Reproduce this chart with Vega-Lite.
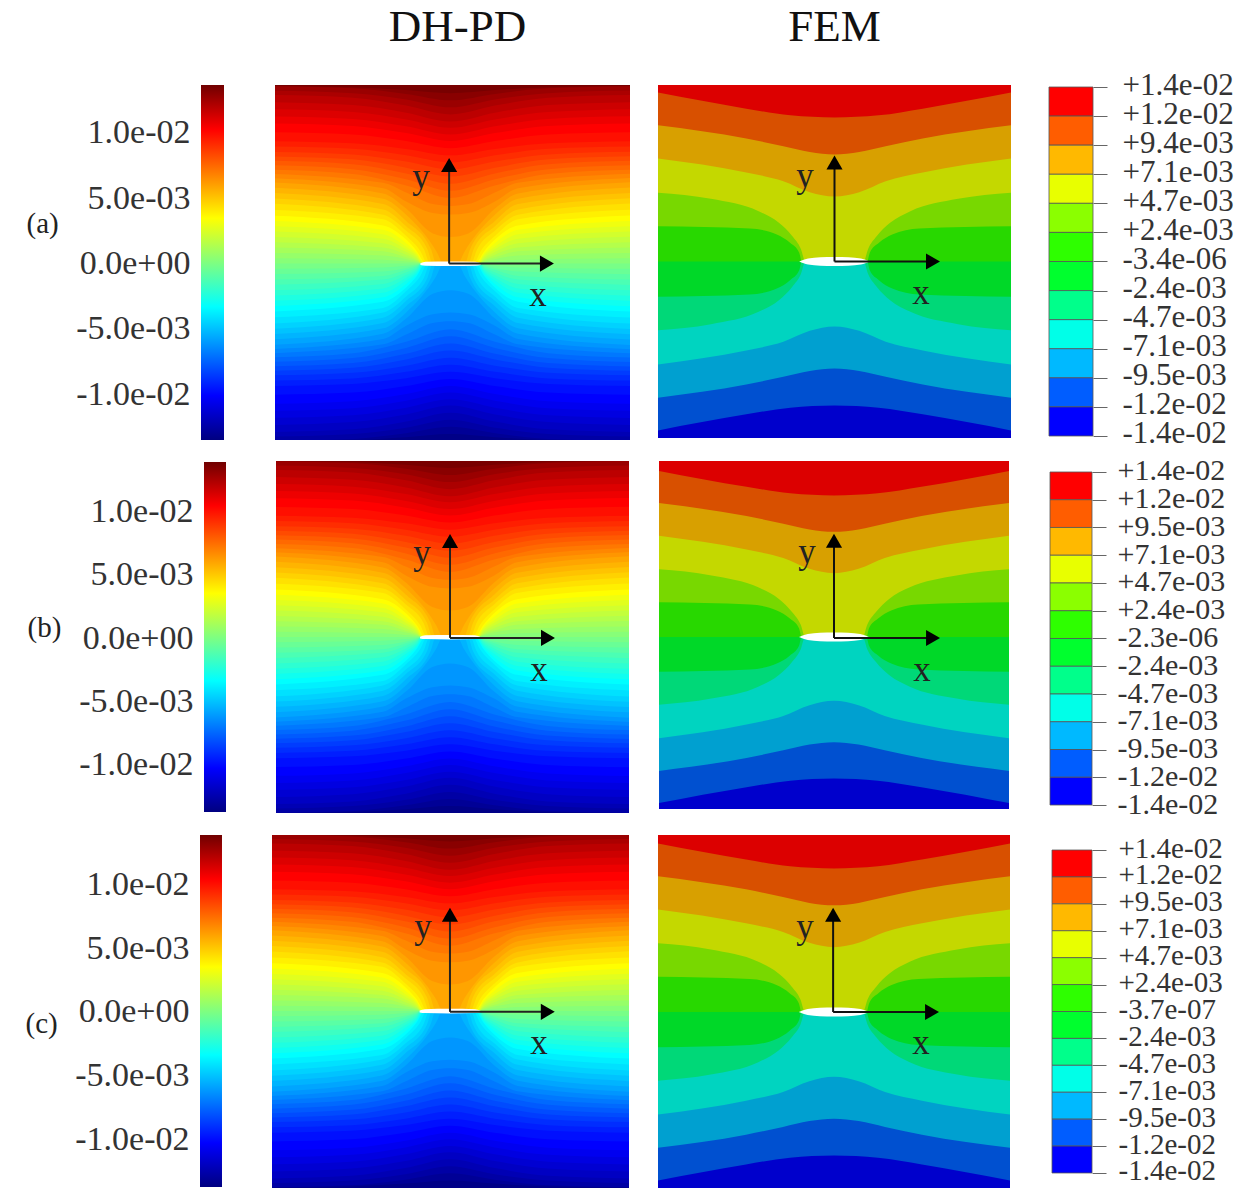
{"$schema":"https://vega.github.io/schema/vega-lite/v6.json","background":"white","padding":{"left":25,"top":5,"right":0,"bottom":0},"config":{"view":{"stroke":null},"axis":{"labelFont":"Liberation Serif","titleFont":"Liberation Serif","labelColor":"#333","titleColor":"#222","domain":false,"grid":false,"labelFontSize":34,"titleFontSize":29,"titleFontWeight":"normal","labelOverlap":false,"labelFlush":false,"labelBaseline":"middle","tickColor":"#666"}},
"datasets":{
"bands":[{"i":0,"j":1,"b":1,"p":0,"q":1},{"i":1,"j":2,"b":2,"p":0,"q":1},{"i":2,"j":3,"b":3,"p":0,"q":1},{"i":3,"j":4,"b":4,"p":0,"q":1},{"i":4,"j":5,"b":5,"p":0,"q":1},{"i":5,"j":6,"b":6,"p":0,"q":1},{"i":6,"j":7,"b":7,"p":0,"q":1},{"i":7,"j":8,"b":8,"p":0,"q":1},{"i":8,"j":9,"b":9,"p":0,"q":1},{"i":9,"j":10,"b":10,"p":0,"q":1},{"i":10,"j":11,"b":11,"p":0,"q":1},{"i":11,"j":12,"b":12,"p":0,"q":1}],
"crackF":[{"x":-0.2,"t":0,"b":0},{"x":-0.15,"t":0.017,"b":-0.017},{"x":-0.08,"t":0.024,"b":-0.024},{"x":0,"t":0.026,"b":-0.026},{"x":0.08,"t":0.024,"b":-0.024},{"x":0.15,"t":0.017,"b":-0.017},{"x":0.2,"t":0,"b":0}],
"crackP":[{"x":-0.17,"t":0.002,"b":-0.008},{"x":-0.14,"t":0.01,"b":-0.012},{"x":0,"t":0.012,"b":-0.014},{"x":0.14,"t":0.01,"b":-0.012},{"x":0.17,"t":0.002,"b":-0.008}],
"fem":[{"b":1,"x":-1,"y":1.05},{"b":1,"x":1,"y":1.05},
{"b":2,"x":-1,"y":0.957},{"b":2,"x":-0.5,"y":0.866},{"b":2,"x":-0.25,"y":0.828},{"b":2,"x":0,"y":0.816},{"b":2,"x":0.25,"y":0.828},{"b":2,"x":0.5,"y":0.866},{"b":2,"x":1,"y":0.957},
{"b":3,"x":-1,"y":0.772},{"b":3,"x":-0.5,"y":0.697},{"b":3,"x":-0.29,"y":0.653},{"b":3,"x":-0.14,"y":0.62},{"b":3,"x":0,"y":0.606},{"b":3,"x":0.14,"y":0.62},{"b":3,"x":0.29,"y":0.653},{"b":3,"x":0.5,"y":0.697},{"b":3,"x":1,"y":0.772},
{"b":4,"x":-1,"y":0.583},{"b":4,"x":-0.5,"y":0.504},{"b":4,"x":-0.29,"y":0.455},{"b":4,"x":-0.14,"y":0.393},{"b":4,"x":0,"y":0.368},{"b":4,"x":0.14,"y":0.393},{"b":4,"x":0.29,"y":0.455},{"b":4,"x":0.5,"y":0.504},{"b":4,"x":1,"y":0.583},
{"b":5,"x":-1,"y":0.39},{"b":5,"x":-0.7,"y":0.355},{"b":5,"x":-0.43,"y":0.285},{"b":5,"x":-0.315,"y":0.219},{"b":5,"x":-0.24,"y":0.144},{"b":5,"x":-0.19,"y":0.07},{"b":5,"x":-0.165,"y":0},{"b":5,"x":0.165,"y":0},{"b":5,"x":0.19,"y":0.07},{"b":5,"x":0.24,"y":0.144},{"b":5,"x":0.315,"y":0.219},{"b":5,"x":0.43,"y":0.285},{"b":5,"x":0.7,"y":0.355},{"b":5,"x":1,"y":0.39},
{"b":6,"x":-1,"y":0.2},{"b":6,"x":-0.48,"y":0.187},{"b":6,"x":-0.327,"y":0.153},{"b":6,"x":-0.252,"y":0.106},{"b":6,"x":-0.2,"y":0.05},{"b":6,"x":-0.185,"y":0},{"b":6,"x":0.185,"y":0},{"b":6,"x":0.2,"y":0.05},{"b":6,"x":0.252,"y":0.106},{"b":6,"x":0.327,"y":0.153},{"b":6,"x":0.48,"y":0.187},{"b":6,"x":1,"y":0.2},
{"b":7,"x":-1,"y":0},{"b":7,"x":1,"y":0},
{"b":8,"x":-1,"y":-0.2},{"b":8,"x":-0.48,"y":-0.187},{"b":8,"x":-0.327,"y":-0.153},{"b":8,"x":-0.252,"y":-0.106},{"b":8,"x":-0.2,"y":-0.05},{"b":8,"x":-0.185,"y":0},{"b":8,"x":0.185,"y":0},{"b":8,"x":0.2,"y":-0.05},{"b":8,"x":0.252,"y":-0.106},{"b":8,"x":0.327,"y":-0.153},{"b":8,"x":0.48,"y":-0.187},{"b":8,"x":1,"y":-0.2},
{"b":9,"x":-1,"y":-0.39},{"b":9,"x":-0.7,"y":-0.355},{"b":9,"x":-0.43,"y":-0.285},{"b":9,"x":-0.315,"y":-0.219},{"b":9,"x":-0.24,"y":-0.144},{"b":9,"x":-0.19,"y":-0.07},{"b":9,"x":-0.165,"y":0},{"b":9,"x":0.165,"y":0},{"b":9,"x":0.19,"y":-0.07},{"b":9,"x":0.24,"y":-0.144},{"b":9,"x":0.315,"y":-0.219},{"b":9,"x":0.43,"y":-0.285},{"b":9,"x":0.7,"y":-0.355},{"b":9,"x":1,"y":-0.39},
{"b":10,"x":-1,"y":-0.583},{"b":10,"x":-0.5,"y":-0.504},{"b":10,"x":-0.29,"y":-0.455},{"b":10,"x":-0.14,"y":-0.393},{"b":10,"x":0,"y":-0.368},{"b":10,"x":0.14,"y":-0.393},{"b":10,"x":0.29,"y":-0.455},{"b":10,"x":0.5,"y":-0.504},{"b":10,"x":1,"y":-0.583},
{"b":11,"x":-1,"y":-0.772},{"b":11,"x":-0.5,"y":-0.697},{"b":11,"x":-0.29,"y":-0.653},{"b":11,"x":-0.14,"y":-0.62},{"b":11,"x":0,"y":-0.606},{"b":11,"x":0.14,"y":-0.62},{"b":11,"x":0.29,"y":-0.653},{"b":11,"x":0.5,"y":-0.697},{"b":11,"x":1,"y":-0.772},
{"b":12,"x":-1,"y":-0.957},{"b":12,"x":-0.5,"y":-0.866},{"b":12,"x":-0.25,"y":-0.828},{"b":12,"x":0,"y":-0.816},{"b":12,"x":0.25,"y":-0.828},{"b":12,"x":0.5,"y":-0.866},{"b":12,"x":1,"y":-0.957}],
"pd":[{"v":0.0134,"x":-1.05,"y":1.05},{"v":0.0134,"x":1.05,"y":1.05},
{"v":0.013,"x":-1.05,"y":1},{"v":0.013,"x":-0.55,"y":0.994},{"v":0.013,"x":-0.25,"y":0.978},{"v":0.013,"x":0,"y":0.96},{"v":0.013,"x":0.25,"y":0.978},{"v":0.013,"x":0.55,"y":0.994},{"v":0.013,"x":1.05,"y":1},
{"v":0.0126,"x":-1.05,"y":1},{"v":0.0126,"x":-0.55,"y":0.988},{"v":0.0126,"x":-0.25,"y":0.956},{"v":0.0126,"x":0,"y":0.92},{"v":0.0126,"x":0.25,"y":0.956},{"v":0.0126,"x":0.55,"y":0.988},{"v":0.0126,"x":1.05,"y":1},
{"v":0.0122,"x":-1.05,"y":0.975},{"v":0.0122,"x":-0.55,"y":0.96},{"v":0.0122,"x":-0.25,"y":0.925},{"v":0.0122,"x":0,"y":0.88},{"v":0.0122,"x":0.25,"y":0.925},{"v":0.0122,"x":0.55,"y":0.96},{"v":0.0122,"x":1.05,"y":0.975},
{"v":0.0118,"x":-1.05,"y":0.95},{"v":0.0118,"x":-0.55,"y":0.934},{"v":0.0118,"x":-0.25,"y":0.89},{"v":0.0118,"x":0,"y":0.84},{"v":0.0118,"x":0.25,"y":0.89},{"v":0.0118,"x":0.55,"y":0.934},{"v":0.0118,"x":1.05,"y":0.95},
{"v":0.0114,"x":-1.05,"y":0.91},{"v":0.0114,"x":-0.55,"y":0.893},{"v":0.0114,"x":-0.25,"y":0.85},{"v":0.0114,"x":0,"y":0.8},{"v":0.0114,"x":0.25,"y":0.85},{"v":0.0114,"x":0.55,"y":0.893},{"v":0.0114,"x":1.05,"y":0.91},
{"v":0.011,"x":-1.05,"y":0.87},{"v":0.011,"x":-0.55,"y":0.854},{"v":0.011,"x":-0.25,"y":0.812},{"v":0.011,"x":0,"y":0.765},{"v":0.011,"x":0.25,"y":0.812},{"v":0.011,"x":0.55,"y":0.854},{"v":0.011,"x":1.05,"y":0.87},
{"v":0.0106,"x":-1.05,"y":0.83},{"v":0.0106,"x":-0.55,"y":0.815},{"v":0.0106,"x":-0.25,"y":0.773},{"v":0.0106,"x":0,"y":0.727},{"v":0.0106,"x":0.25,"y":0.773},{"v":0.0106,"x":0.55,"y":0.815},{"v":0.0106,"x":1.05,"y":0.83},
{"v":0.0102,"x":-1.05,"y":0.79},{"v":0.0102,"x":-0.55,"y":0.775},{"v":0.0102,"x":-0.25,"y":0.735},{"v":0.0102,"x":0,"y":0.69},{"v":0.0102,"x":0.25,"y":0.735},{"v":0.0102,"x":0.55,"y":0.775},{"v":0.0102,"x":1.05,"y":0.79},
{"v":0.0098,"x":-1.05,"y":0.74},{"v":0.0098,"x":-0.55,"y":0.727},{"v":0.0098,"x":-0.25,"y":0.69},{"v":0.0098,"x":0,"y":0.65},{"v":0.0098,"x":0.25,"y":0.69},{"v":0.0098,"x":0.55,"y":0.727},{"v":0.0098,"x":1.05,"y":0.74},
{"v":0.0094,"x":-1.05,"y":0.69},{"v":0.0094,"x":-0.55,"y":0.678},{"v":0.0094,"x":-0.25,"y":0.646},{"v":0.0094,"x":0,"y":0.61},{"v":0.0094,"x":0.25,"y":0.646},{"v":0.0094,"x":0.55,"y":0.678},{"v":0.0094,"x":1.05,"y":0.69},
{"v":0.009,"x":-1.05,"y":0.66},{"v":0.009,"x":-0.55,"y":0.647},{"v":0.009,"x":-0.25,"y":0.61},{"v":0.009,"x":0,"y":0.57},{"v":0.009,"x":0.25,"y":0.61},{"v":0.009,"x":0.55,"y":0.647},{"v":0.009,"x":1.05,"y":0.66},
{"v":0.0086,"x":-1.05,"y":0.63},{"v":0.0086,"x":-0.55,"y":0.615},{"v":0.0086,"x":-0.25,"y":0.575},{"v":0.0086,"x":0,"y":0.53},{"v":0.0086,"x":0.25,"y":0.575},{"v":0.0086,"x":0.55,"y":0.615},{"v":0.0086,"x":1.05,"y":0.63},
{"v":0.0082,"x":-1.05,"y":0.605},{"v":0.0082,"x":-0.55,"y":0.587},{"v":0.0082,"x":-0.25,"y":0.54},{"v":0.0082,"x":0,"y":0.49},{"v":0.0082,"x":0.25,"y":0.54},{"v":0.0082,"x":0.55,"y":0.587},{"v":0.0082,"x":1.05,"y":0.605},
{"v":0.0078,"x":-1.05,"y":0.58},{"v":0.0078,"x":-0.55,"y":0.56},{"v":0.0078,"x":-0.25,"y":0.508},{"v":0.0078,"x":0,"y":0.45},{"v":0.0078,"x":0.25,"y":0.508},{"v":0.0078,"x":0.55,"y":0.56},{"v":0.0078,"x":1.05,"y":0.58},
{"v":0.0074,"x":-1.05,"y":0.555},{"v":0.0074,"x":-0.55,"y":0.532},{"v":0.0074,"x":-0.25,"y":0.475},{"v":0.0074,"x":0,"y":0.41},{"v":0.0074,"x":0.25,"y":0.475},{"v":0.0074,"x":0.55,"y":0.532},{"v":0.0074,"x":1.05,"y":0.555},
{"v":0.007,"x":-1.05,"y":0.53},{"v":0.007,"x":-0.55,"y":0.505},{"v":0.007,"x":-0.25,"y":0.44},{"v":0.007,"x":0,"y":0.37},{"v":0.007,"x":0.25,"y":0.44},{"v":0.007,"x":0.55,"y":0.505},{"v":0.007,"x":1.05,"y":0.53},
{"v":0.0066,"x":-1.05,"y":0.507},{"v":0.0066,"x":-0.38,"y":0.455},{"v":0.0066,"x":-0.25,"y":0.4},{"v":0.0066,"x":-0.1,"y":0.335},{"v":0.0066,"x":0,"y":0.325},{"v":0.0066,"x":0.1,"y":0.335},{"v":0.0066,"x":0.25,"y":0.4},{"v":0.0066,"x":0.38,"y":0.455},{"v":0.0066,"x":1.05,"y":0.507},
{"v":0.0062,"x":-1.05,"y":0.484},{"v":0.0062,"x":-0.38,"y":0.425},{"v":0.0062,"x":-0.25,"y":0.35},{"v":0.0062,"x":-0.1,"y":0.285},{"v":0.0062,"x":0,"y":0.276},{"v":0.0062,"x":0.1,"y":0.285},{"v":0.0062,"x":0.25,"y":0.35},{"v":0.0062,"x":0.38,"y":0.425},{"v":0.0062,"x":1.05,"y":0.484},
{"v":0.0058,"x":-1.05,"y":0.46},{"v":0.0058,"x":-0.38,"y":0.395},{"v":0.0058,"x":-0.25,"y":0.31},{"v":0.0058,"x":-0.1,"y":0.17},{"v":0.0058,"x":0,"y":0.15},{"v":0.0058,"x":0.1,"y":0.17},{"v":0.0058,"x":0.25,"y":0.31},{"v":0.0058,"x":0.38,"y":0.395},{"v":0.0058,"x":1.05,"y":0.46},
{"v":0.0054,"x":-1.05,"y":0.43},{"v":0.0054,"x":-0.38,"y":0.365},{"v":0.0054,"x":-0.25,"y":0.275},{"v":0.0054,"x":-0.08,"y":0.07},{"v":0.0054,"x":-0.04,"y":0},{"v":0.0054,"x":0.04,"y":0},{"v":0.0054,"x":0.08,"y":0.07},{"v":0.0054,"x":0.25,"y":0.275},{"v":0.0054,"x":0.38,"y":0.365},{"v":0.0054,"x":1.05,"y":0.43},
{"v":0.005,"x":-1.05,"y":0.4},{"v":0.005,"x":-0.38,"y":0.335},{"v":0.005,"x":-0.25,"y":0.24},{"v":0.005,"x":-0.11,"y":0.08},{"v":0.005,"x":-0.08,"y":0},{"v":0.005,"x":0.08,"y":0},{"v":0.005,"x":0.11,"y":0.08},{"v":0.005,"x":0.25,"y":0.24},{"v":0.005,"x":0.38,"y":0.335},{"v":0.005,"x":1.05,"y":0.4},
{"v":0.0046,"x":-1.05,"y":0.37},{"v":0.0046,"x":-0.38,"y":0.305},{"v":0.0046,"x":-0.25,"y":0.21},{"v":0.0046,"x":-0.13,"y":0.08},{"v":0.0046,"x":-0.1,"y":0},{"v":0.0046,"x":0.1,"y":0},{"v":0.0046,"x":0.13,"y":0.08},{"v":0.0046,"x":0.25,"y":0.21},{"v":0.0046,"x":0.38,"y":0.305},{"v":0.0046,"x":1.05,"y":0.37},
{"v":0.0042,"x":-1.05,"y":0.34},{"v":0.0042,"x":-0.38,"y":0.275},{"v":0.0042,"x":-0.25,"y":0.185},{"v":0.0042,"x":-0.15,"y":0.08},{"v":0.0042,"x":-0.115,"y":0},{"v":0.0042,"x":0.115,"y":0},{"v":0.0042,"x":0.15,"y":0.08},{"v":0.0042,"x":0.25,"y":0.185},{"v":0.0042,"x":0.38,"y":0.275},{"v":0.0042,"x":1.05,"y":0.34},
{"v":0.0038,"x":-1.05,"y":0.305},{"v":0.0038,"x":-0.38,"y":0.25},{"v":0.0038,"x":-0.25,"y":0.155},{"v":0.0038,"x":-0.17,"y":0.07},{"v":0.0038,"x":-0.13,"y":0},{"v":0.0038,"x":0.13,"y":0},{"v":0.0038,"x":0.17,"y":0.07},{"v":0.0038,"x":0.25,"y":0.155},{"v":0.0038,"x":0.38,"y":0.25},{"v":0.0038,"x":1.05,"y":0.305},
{"v":0.0034,"x":-1.05,"y":0.272},{"v":0.0034,"x":-0.38,"y":0.215},{"v":0.0034,"x":-0.25,"y":0.135},{"v":0.0034,"x":-0.19,"y":0.07},{"v":0.0034,"x":-0.14,"y":0},{"v":0.0034,"x":0.14,"y":0},{"v":0.0034,"x":0.19,"y":0.07},{"v":0.0034,"x":0.25,"y":0.135},{"v":0.0034,"x":0.38,"y":0.215},{"v":0.0034,"x":1.05,"y":0.272},
{"v":0.003,"x":-1.05,"y":0.242},{"v":0.003,"x":-0.38,"y":0.19},{"v":0.003,"x":-0.25,"y":0.115},{"v":0.003,"x":-0.19,"y":0.06},{"v":0.003,"x":-0.145,"y":0},{"v":0.003,"x":0.145,"y":0},{"v":0.003,"x":0.19,"y":0.06},{"v":0.003,"x":0.25,"y":0.115},{"v":0.003,"x":0.38,"y":0.19},{"v":0.003,"x":1.05,"y":0.242},
{"v":0.0026,"x":-1.05,"y":0.212},{"v":0.0026,"x":-0.38,"y":0.165},{"v":0.0026,"x":-0.25,"y":0.095},{"v":0.0026,"x":-0.19,"y":0.05},{"v":0.0026,"x":-0.15,"y":0},{"v":0.0026,"x":0.15,"y":0},{"v":0.0026,"x":0.19,"y":0.05},{"v":0.0026,"x":0.25,"y":0.095},{"v":0.0026,"x":0.38,"y":0.165},{"v":0.0026,"x":1.05,"y":0.212},
{"v":0.0022,"x":-1.05,"y":0.182},{"v":0.0022,"x":-0.38,"y":0.14},{"v":0.0022,"x":-0.25,"y":0.08},{"v":0.0022,"x":-0.19,"y":0.04},{"v":0.0022,"x":-0.155,"y":0},{"v":0.0022,"x":0.155,"y":0},{"v":0.0022,"x":0.19,"y":0.04},{"v":0.0022,"x":0.25,"y":0.08},{"v":0.0022,"x":0.38,"y":0.14},{"v":0.0022,"x":1.05,"y":0.182},
{"v":0.0018,"x":-1.05,"y":0.152},{"v":0.0018,"x":-0.38,"y":0.115},{"v":0.0018,"x":-0.25,"y":0.065},{"v":0.0018,"x":-0.19,"y":0.03},{"v":0.0018,"x":-0.16,"y":0},{"v":0.0018,"x":0.16,"y":0},{"v":0.0018,"x":0.19,"y":0.03},{"v":0.0018,"x":0.25,"y":0.065},{"v":0.0018,"x":0.38,"y":0.115},{"v":0.0018,"x":1.05,"y":0.152},
{"v":0.0014,"x":-1.05,"y":0.121},{"v":0.0014,"x":-0.38,"y":0.09},{"v":0.0014,"x":-0.25,"y":0.05},{"v":0.0014,"x":-0.19,"y":0.022},{"v":0.0014,"x":-0.16,"y":0},{"v":0.0014,"x":0.16,"y":0},{"v":0.0014,"x":0.19,"y":0.022},{"v":0.0014,"x":0.25,"y":0.05},{"v":0.0014,"x":0.38,"y":0.09},{"v":0.0014,"x":1.05,"y":0.121},
{"v":0.001,"x":-1.05,"y":0.091},{"v":0.001,"x":-0.38,"y":0.07},{"v":0.001,"x":-0.25,"y":0.035},{"v":0.001,"x":-0.19,"y":0.015},{"v":0.001,"x":-0.16,"y":0},{"v":0.001,"x":0.16,"y":0},{"v":0.001,"x":0.19,"y":0.015},{"v":0.001,"x":0.25,"y":0.035},{"v":0.001,"x":0.38,"y":0.07},{"v":0.001,"x":1.05,"y":0.091},
{"v":0.0006,"x":-1.05,"y":0.06},{"v":0.0006,"x":-0.38,"y":0.045},{"v":0.0006,"x":-0.25,"y":0.025},{"v":0.0006,"x":-0.19,"y":0.01},{"v":0.0006,"x":-0.16,"y":0},{"v":0.0006,"x":0.16,"y":0},{"v":0.0006,"x":0.19,"y":0.01},{"v":0.0006,"x":0.25,"y":0.025},{"v":0.0006,"x":0.38,"y":0.045},{"v":0.0006,"x":1.05,"y":0.06},
{"v":0.0002,"x":-1.05,"y":0.03},{"v":0.0002,"x":-0.38,"y":0.022},{"v":0.0002,"x":-0.25,"y":0.012},{"v":0.0002,"x":-0.19,"y":0.005},{"v":0.0002,"x":-0.16,"y":0},{"v":0.0002,"x":0.16,"y":0},{"v":0.0002,"x":0.19,"y":0.005},{"v":0.0002,"x":0.25,"y":0.012},{"v":0.0002,"x":0.38,"y":0.022},{"v":0.0002,"x":1.05,"y":0.03},
{"v":-0.0002,"x":-1.05,"y":0},{"v":-0.0002,"x":1.05,"y":0},
{"v":-0.0006,"x":-1.05,"y":-0.03},{"v":-0.0006,"x":-0.38,"y":-0.022},{"v":-0.0006,"x":-0.25,"y":-0.012},{"v":-0.0006,"x":-0.19,"y":-0.005},{"v":-0.0006,"x":-0.16,"y":0},{"v":-0.0006,"x":0.16,"y":0},{"v":-0.0006,"x":0.19,"y":-0.005},{"v":-0.0006,"x":0.25,"y":-0.012},{"v":-0.0006,"x":0.38,"y":-0.022},{"v":-0.0006,"x":1.05,"y":-0.03},
{"v":-0.001,"x":-1.05,"y":-0.06},{"v":-0.001,"x":-0.38,"y":-0.045},{"v":-0.001,"x":-0.25,"y":-0.025},{"v":-0.001,"x":-0.19,"y":-0.01},{"v":-0.001,"x":-0.16,"y":0},{"v":-0.001,"x":0.16,"y":0},{"v":-0.001,"x":0.19,"y":-0.01},{"v":-0.001,"x":0.25,"y":-0.025},{"v":-0.001,"x":0.38,"y":-0.045},{"v":-0.001,"x":1.05,"y":-0.06},
{"v":-0.0014,"x":-1.05,"y":-0.091},{"v":-0.0014,"x":-0.38,"y":-0.07},{"v":-0.0014,"x":-0.25,"y":-0.035},{"v":-0.0014,"x":-0.19,"y":-0.015},{"v":-0.0014,"x":-0.16,"y":0},{"v":-0.0014,"x":0.16,"y":0},{"v":-0.0014,"x":0.19,"y":-0.015},{"v":-0.0014,"x":0.25,"y":-0.035},{"v":-0.0014,"x":0.38,"y":-0.07},{"v":-0.0014,"x":1.05,"y":-0.091},
{"v":-0.0018,"x":-1.05,"y":-0.121},{"v":-0.0018,"x":-0.38,"y":-0.09},{"v":-0.0018,"x":-0.25,"y":-0.05},{"v":-0.0018,"x":-0.19,"y":-0.022},{"v":-0.0018,"x":-0.16,"y":0},{"v":-0.0018,"x":0.16,"y":0},{"v":-0.0018,"x":0.19,"y":-0.022},{"v":-0.0018,"x":0.25,"y":-0.05},{"v":-0.0018,"x":0.38,"y":-0.09},{"v":-0.0018,"x":1.05,"y":-0.121},
{"v":-0.0022,"x":-1.05,"y":-0.152},{"v":-0.0022,"x":-0.38,"y":-0.115},{"v":-0.0022,"x":-0.25,"y":-0.065},{"v":-0.0022,"x":-0.19,"y":-0.03},{"v":-0.0022,"x":-0.16,"y":0},{"v":-0.0022,"x":0.16,"y":0},{"v":-0.0022,"x":0.19,"y":-0.03},{"v":-0.0022,"x":0.25,"y":-0.065},{"v":-0.0022,"x":0.38,"y":-0.115},{"v":-0.0022,"x":1.05,"y":-0.152},
{"v":-0.0026,"x":-1.05,"y":-0.182},{"v":-0.0026,"x":-0.38,"y":-0.14},{"v":-0.0026,"x":-0.25,"y":-0.08},{"v":-0.0026,"x":-0.19,"y":-0.04},{"v":-0.0026,"x":-0.155,"y":0},{"v":-0.0026,"x":0.155,"y":0},{"v":-0.0026,"x":0.19,"y":-0.04},{"v":-0.0026,"x":0.25,"y":-0.08},{"v":-0.0026,"x":0.38,"y":-0.14},{"v":-0.0026,"x":1.05,"y":-0.182},
{"v":-0.003,"x":-1.05,"y":-0.212},{"v":-0.003,"x":-0.38,"y":-0.165},{"v":-0.003,"x":-0.25,"y":-0.095},{"v":-0.003,"x":-0.19,"y":-0.05},{"v":-0.003,"x":-0.15,"y":0},{"v":-0.003,"x":0.15,"y":0},{"v":-0.003,"x":0.19,"y":-0.05},{"v":-0.003,"x":0.25,"y":-0.095},{"v":-0.003,"x":0.38,"y":-0.165},{"v":-0.003,"x":1.05,"y":-0.212},
{"v":-0.0034,"x":-1.05,"y":-0.242},{"v":-0.0034,"x":-0.38,"y":-0.19},{"v":-0.0034,"x":-0.25,"y":-0.115},{"v":-0.0034,"x":-0.19,"y":-0.06},{"v":-0.0034,"x":-0.145,"y":0},{"v":-0.0034,"x":0.145,"y":0},{"v":-0.0034,"x":0.19,"y":-0.06},{"v":-0.0034,"x":0.25,"y":-0.115},{"v":-0.0034,"x":0.38,"y":-0.19},{"v":-0.0034,"x":1.05,"y":-0.242},
{"v":-0.0038,"x":-1.05,"y":-0.272},{"v":-0.0038,"x":-0.38,"y":-0.215},{"v":-0.0038,"x":-0.25,"y":-0.135},{"v":-0.0038,"x":-0.19,"y":-0.07},{"v":-0.0038,"x":-0.14,"y":0},{"v":-0.0038,"x":0.14,"y":0},{"v":-0.0038,"x":0.19,"y":-0.07},{"v":-0.0038,"x":0.25,"y":-0.135},{"v":-0.0038,"x":0.38,"y":-0.215},{"v":-0.0038,"x":1.05,"y":-0.272},
{"v":-0.0042,"x":-1.05,"y":-0.305},{"v":-0.0042,"x":-0.38,"y":-0.25},{"v":-0.0042,"x":-0.25,"y":-0.155},{"v":-0.0042,"x":-0.17,"y":-0.07},{"v":-0.0042,"x":-0.13,"y":0},{"v":-0.0042,"x":0.13,"y":0},{"v":-0.0042,"x":0.17,"y":-0.07},{"v":-0.0042,"x":0.25,"y":-0.155},{"v":-0.0042,"x":0.38,"y":-0.25},{"v":-0.0042,"x":1.05,"y":-0.305},
{"v":-0.0046,"x":-1.05,"y":-0.34},{"v":-0.0046,"x":-0.38,"y":-0.275},{"v":-0.0046,"x":-0.25,"y":-0.185},{"v":-0.0046,"x":-0.15,"y":-0.08},{"v":-0.0046,"x":-0.115,"y":0},{"v":-0.0046,"x":0.115,"y":0},{"v":-0.0046,"x":0.15,"y":-0.08},{"v":-0.0046,"x":0.25,"y":-0.185},{"v":-0.0046,"x":0.38,"y":-0.275},{"v":-0.0046,"x":1.05,"y":-0.34},
{"v":-0.005,"x":-1.05,"y":-0.37},{"v":-0.005,"x":-0.38,"y":-0.305},{"v":-0.005,"x":-0.25,"y":-0.21},{"v":-0.005,"x":-0.13,"y":-0.08},{"v":-0.005,"x":-0.1,"y":0},{"v":-0.005,"x":0.1,"y":0},{"v":-0.005,"x":0.13,"y":-0.08},{"v":-0.005,"x":0.25,"y":-0.21},{"v":-0.005,"x":0.38,"y":-0.305},{"v":-0.005,"x":1.05,"y":-0.37},
{"v":-0.0054,"x":-1.05,"y":-0.4},{"v":-0.0054,"x":-0.38,"y":-0.335},{"v":-0.0054,"x":-0.25,"y":-0.24},{"v":-0.0054,"x":-0.11,"y":-0.08},{"v":-0.0054,"x":-0.08,"y":0},{"v":-0.0054,"x":0.08,"y":0},{"v":-0.0054,"x":0.11,"y":-0.08},{"v":-0.0054,"x":0.25,"y":-0.24},{"v":-0.0054,"x":0.38,"y":-0.335},{"v":-0.0054,"x":1.05,"y":-0.4},
{"v":-0.0058,"x":-1.05,"y":-0.43},{"v":-0.0058,"x":-0.38,"y":-0.365},{"v":-0.0058,"x":-0.25,"y":-0.275},{"v":-0.0058,"x":-0.08,"y":-0.07},{"v":-0.0058,"x":-0.04,"y":0},{"v":-0.0058,"x":0.04,"y":0},{"v":-0.0058,"x":0.08,"y":-0.07},{"v":-0.0058,"x":0.25,"y":-0.275},{"v":-0.0058,"x":0.38,"y":-0.365},{"v":-0.0058,"x":1.05,"y":-0.43},
{"v":-0.0062,"x":-1.05,"y":-0.46},{"v":-0.0062,"x":-0.38,"y":-0.395},{"v":-0.0062,"x":-0.25,"y":-0.31},{"v":-0.0062,"x":-0.1,"y":-0.17},{"v":-0.0062,"x":0,"y":-0.15},{"v":-0.0062,"x":0.1,"y":-0.17},{"v":-0.0062,"x":0.25,"y":-0.31},{"v":-0.0062,"x":0.38,"y":-0.395},{"v":-0.0062,"x":1.05,"y":-0.46},
{"v":-0.0066,"x":-1.05,"y":-0.484},{"v":-0.0066,"x":-0.38,"y":-0.425},{"v":-0.0066,"x":-0.25,"y":-0.35},{"v":-0.0066,"x":-0.1,"y":-0.285},{"v":-0.0066,"x":0,"y":-0.276},{"v":-0.0066,"x":0.1,"y":-0.285},{"v":-0.0066,"x":0.25,"y":-0.35},{"v":-0.0066,"x":0.38,"y":-0.425},{"v":-0.0066,"x":1.05,"y":-0.484},
{"v":-0.007,"x":-1.05,"y":-0.507},{"v":-0.007,"x":-0.38,"y":-0.455},{"v":-0.007,"x":-0.25,"y":-0.4},{"v":-0.007,"x":-0.1,"y":-0.335},{"v":-0.007,"x":0,"y":-0.325},{"v":-0.007,"x":0.1,"y":-0.335},{"v":-0.007,"x":0.25,"y":-0.4},{"v":-0.007,"x":0.38,"y":-0.455},{"v":-0.007,"x":1.05,"y":-0.507},
{"v":-0.0074,"x":-1.05,"y":-0.53},{"v":-0.0074,"x":-0.55,"y":-0.505},{"v":-0.0074,"x":-0.25,"y":-0.44},{"v":-0.0074,"x":0,"y":-0.37},{"v":-0.0074,"x":0.25,"y":-0.44},{"v":-0.0074,"x":0.55,"y":-0.505},{"v":-0.0074,"x":1.05,"y":-0.53},
{"v":-0.0078,"x":-1.05,"y":-0.555},{"v":-0.0078,"x":-0.55,"y":-0.532},{"v":-0.0078,"x":-0.25,"y":-0.475},{"v":-0.0078,"x":0,"y":-0.41},{"v":-0.0078,"x":0.25,"y":-0.475},{"v":-0.0078,"x":0.55,"y":-0.532},{"v":-0.0078,"x":1.05,"y":-0.555},
{"v":-0.0082,"x":-1.05,"y":-0.58},{"v":-0.0082,"x":-0.55,"y":-0.56},{"v":-0.0082,"x":-0.25,"y":-0.508},{"v":-0.0082,"x":0,"y":-0.45},{"v":-0.0082,"x":0.25,"y":-0.508},{"v":-0.0082,"x":0.55,"y":-0.56},{"v":-0.0082,"x":1.05,"y":-0.58},
{"v":-0.0086,"x":-1.05,"y":-0.605},{"v":-0.0086,"x":-0.55,"y":-0.587},{"v":-0.0086,"x":-0.25,"y":-0.54},{"v":-0.0086,"x":0,"y":-0.49},{"v":-0.0086,"x":0.25,"y":-0.54},{"v":-0.0086,"x":0.55,"y":-0.587},{"v":-0.0086,"x":1.05,"y":-0.605},
{"v":-0.009,"x":-1.05,"y":-0.63},{"v":-0.009,"x":-0.55,"y":-0.615},{"v":-0.009,"x":-0.25,"y":-0.575},{"v":-0.009,"x":0,"y":-0.53},{"v":-0.009,"x":0.25,"y":-0.575},{"v":-0.009,"x":0.55,"y":-0.615},{"v":-0.009,"x":1.05,"y":-0.63},
{"v":-0.0094,"x":-1.05,"y":-0.66},{"v":-0.0094,"x":-0.55,"y":-0.647},{"v":-0.0094,"x":-0.25,"y":-0.61},{"v":-0.0094,"x":0,"y":-0.57},{"v":-0.0094,"x":0.25,"y":-0.61},{"v":-0.0094,"x":0.55,"y":-0.647},{"v":-0.0094,"x":1.05,"y":-0.66},
{"v":-0.0098,"x":-1.05,"y":-0.69},{"v":-0.0098,"x":-0.55,"y":-0.678},{"v":-0.0098,"x":-0.25,"y":-0.646},{"v":-0.0098,"x":0,"y":-0.61},{"v":-0.0098,"x":0.25,"y":-0.646},{"v":-0.0098,"x":0.55,"y":-0.678},{"v":-0.0098,"x":1.05,"y":-0.69},
{"v":-0.0102,"x":-1.05,"y":-0.74},{"v":-0.0102,"x":-0.55,"y":-0.727},{"v":-0.0102,"x":-0.25,"y":-0.69},{"v":-0.0102,"x":0,"y":-0.65},{"v":-0.0102,"x":0.25,"y":-0.69},{"v":-0.0102,"x":0.55,"y":-0.727},{"v":-0.0102,"x":1.05,"y":-0.74},
{"v":-0.0106,"x":-1.05,"y":-0.79},{"v":-0.0106,"x":-0.55,"y":-0.775},{"v":-0.0106,"x":-0.25,"y":-0.735},{"v":-0.0106,"x":0,"y":-0.69},{"v":-0.0106,"x":0.25,"y":-0.735},{"v":-0.0106,"x":0.55,"y":-0.775},{"v":-0.0106,"x":1.05,"y":-0.79},
{"v":-0.011,"x":-1.05,"y":-0.83},{"v":-0.011,"x":-0.55,"y":-0.815},{"v":-0.011,"x":-0.25,"y":-0.773},{"v":-0.011,"x":0,"y":-0.727},{"v":-0.011,"x":0.25,"y":-0.773},{"v":-0.011,"x":0.55,"y":-0.815},{"v":-0.011,"x":1.05,"y":-0.83},
{"v":-0.0114,"x":-1.05,"y":-0.87},{"v":-0.0114,"x":-0.55,"y":-0.854},{"v":-0.0114,"x":-0.25,"y":-0.812},{"v":-0.0114,"x":0,"y":-0.765},{"v":-0.0114,"x":0.25,"y":-0.812},{"v":-0.0114,"x":0.55,"y":-0.854},{"v":-0.0114,"x":1.05,"y":-0.87},
{"v":-0.0118,"x":-1.05,"y":-0.91},{"v":-0.0118,"x":-0.55,"y":-0.893},{"v":-0.0118,"x":-0.25,"y":-0.85},{"v":-0.0118,"x":0,"y":-0.8},{"v":-0.0118,"x":0.25,"y":-0.85},{"v":-0.0118,"x":0.55,"y":-0.893},{"v":-0.0118,"x":1.05,"y":-0.91},
{"v":-0.0122,"x":-1.05,"y":-0.95},{"v":-0.0122,"x":-0.55,"y":-0.934},{"v":-0.0122,"x":-0.25,"y":-0.89},{"v":-0.0122,"x":0,"y":-0.84},{"v":-0.0122,"x":0.25,"y":-0.89},{"v":-0.0122,"x":0.55,"y":-0.934},{"v":-0.0122,"x":1.05,"y":-0.95},
{"v":-0.0126,"x":-1.05,"y":-0.975},{"v":-0.0126,"x":-0.55,"y":-0.96},{"v":-0.0126,"x":-0.25,"y":-0.925},{"v":-0.0126,"x":0,"y":-0.88},{"v":-0.0126,"x":0.25,"y":-0.925},{"v":-0.0126,"x":0.55,"y":-0.96},{"v":-0.0126,"x":1.05,"y":-0.975},
{"v":-0.013,"x":-1.05,"y":-1},{"v":-0.013,"x":-0.55,"y":-0.988},{"v":-0.013,"x":-0.25,"y":-0.956},{"v":-0.013,"x":0,"y":-0.92},{"v":-0.013,"x":0.25,"y":-0.956},{"v":-0.013,"x":0.55,"y":-0.988},{"v":-0.013,"x":1.05,"y":-1},
{"v":-0.0134,"x":-1.05,"y":-1},{"v":-0.0134,"x":-0.55,"y":-0.994},{"v":-0.0134,"x":-0.25,"y":-0.978},{"v":-0.0134,"x":0,"y":-0.96},{"v":-0.0134,"x":0.25,"y":-0.978},{"v":-0.0134,"x":0.55,"y":-0.994},{"v":-0.0134,"x":1.05,"y":-1}]
},
"vconcat":[{"spacing":6,"vconcat":[
{"hconcat":[
{"width":47,"height":355,"data":{"values":[{"lo":-0.0136,"hi":0.0136,"a":0,"b":1}]},"mark":{"type":"rect","fill":{"x1":0,"y1":1,"x2":0,"y2":0,"gradient":"linear","stops":[{"offset":0,"color":"#000080"},{"offset":0.125,"color":"#0000ff"},{"offset":0.375,"color":"#00ffff"},{"offset":0.625,"color":"#ffff00"},{"offset":0.875,"color":"#ff0000"},{"offset":1,"color":"#700000"}]}},"encoding":{"x":{"field":"a","type":"quantitative","axis":null,"scale":{"domain":[-0.0435,2],"nice":false,"zero":false}},"x2":{"field":"b"},"y":{"field":"lo","type":"quantitative","scale":{"domain":[-0.0136,0.0136],"nice":false,"zero":false},"axis":{"values":[-0.01,-0.005,0,0.005,0.01],"labelExpr":"datum.value==0?'0.0e+00':datum.value==0.01?'1.0e-02':datum.value==0.005?'5.0e-03':datum.value==-0.005?'-5.0e-03':'-1.0e-02'","title":"(a)","titleAngle":0,"titleAlign":"left","titleBaseline":"middle","titleX":-175,"titleY":138,"tickSize":-4,"labelPadding":15,"labelOffset":1,"offset":-1}},"y2":{"field":"hi"}}},
{"width":355,"height":355,"title":{"text":"DH-PD","fontSize":45,"font":"Liberation Serif","fontWeight":"normal","color":"#111","offset":35,"dx":5},"layer":[
{"data":{"name":"pd"},"mark":{"type":"area","interpolate":"monotone","orient":"vertical","clip":true},"encoding":{"x":{"field":"x","type":"quantitative","axis":null,"scale":{"domain":[-0.989,1.011],"nice":false,"zero":false}},"y":{"field":"y","type":"quantitative","axis":null,"stack":null,"scale":{"domain":[-0.994,1.006],"nice":false,"zero":false}},"y2":{"datum":-1.05},"detail":{"field":"v","type":"nominal"},"color":{"field":"v","type":"quantitative","legend":null,"scale":{"type":"linear","interpolate":"rgb","domain":[-0.0136,-0.0102,-0.0034,0.0034,0.0102,0.0136],"range":["#000080","#0000ff","#00ffff","#ffff00","#ff0000","#700000"]}}}},
{"data":{"name":"crackP"},"mark":{"type":"area","interpolate":"monotone","orient":"vertical","color":"white"},"encoding":{"x":{"field":"x","type":"quantitative","axis":null},"y":{"field":"t","type":"quantitative","axis":null,"stack":null},"y2":{"field":"b"}}},
{"data":{"values":[{"x":-0.008,"y":0,"x2":-0.008,"y2":0.555,"s":"triangle-up","t":"y","tx":-0.166,"ty":0.487},{"x":-0.008,"y":0,"x2":0.543,"y2":0,"s":"triangle-right","t":"x","tx":0.493,"ty":-0.177}]},"layer":[
{"mark":{"type":"rule","color":"#222","strokeWidth":2},"encoding":{"x":{"field":"x","type":"quantitative","axis":null},"y":{"field":"y","type":"quantitative","axis":null},"x2":{"field":"x2"},"y2":{"field":"y2"}}},
{"mark":{"type":"point","filled":true,"size":260,"color":"black","opacity":1},"encoding":{"x":{"field":"x2","type":"quantitative","axis":null},"y":{"field":"y2","type":"quantitative","axis":null},"shape":{"field":"s","type":"nominal","scale":null}}},
{"mark":{"type":"text","font":"Liberation Serif","fontSize":35,"color":"#222"},"encoding":{"x":{"field":"tx","type":"quantitative","axis":null},"y":{"field":"ty","type":"quantitative","axis":null},"text":{"field":"t"}}}]}]},
{"width":353,"height":355,"title":{"text":"FEM","fontSize":45,"font":"Liberation Serif","fontWeight":"normal","color":"#111","offset":35},"layer":[
{"data":{"name":"fem"},"mark":{"type":"area","interpolate":"monotone","orient":"vertical","clip":true},"encoding":{"x":{"field":"x","type":"quantitative","axis":null,"scale":{"domain":[-1,1],"nice":false,"zero":false}},"y":{"field":"y","type":"quantitative","axis":null,"stack":null,"scale":{"domain":[-1.0113,1],"nice":false,"zero":false}},"y2":{"datum":-1},"detail":{"field":"b","type":"nominal"},"color":{"field":"b","type":"ordinal","legend":null,"scale":{"domain":[1,2,3,4,5,6,7,8,9,10,11,12],"range":["#dc0000","#d85000","#d8a000","#c4d800","#78d800","#28d800","#00d828","#00d878","#00d4c0","#00a0d0","#0050d0","#0000cc"]}}}},
{"data":{"name":"crackF"},"mark":{"type":"area","interpolate":"monotone","orient":"vertical","color":"white"},"encoding":{"x":{"field":"x","type":"quantitative","axis":null},"y":{"field":"t","type":"quantitative","axis":null,"stack":null},"y2":{"field":"b"}}},
{"data":{"values":[{"x":0,"y":0,"x2":0,"y2":0.561,"s":"triangle-up","t":"y","tx":-0.167,"ty":0.482},{"x":0,"y":0,"x2":0.558,"y2":0,"s":"triangle-right","t":"x","tx":0.49,"ty":-0.176}]},"layer":[
{"mark":{"type":"rule","color":"#111","strokeWidth":2},"encoding":{"x":{"field":"x","type":"quantitative","axis":null},"y":{"field":"y","type":"quantitative","axis":null},"x2":{"field":"x2"},"y2":{"field":"y2"}}},
{"mark":{"type":"point","filled":true,"size":260,"color":"black","opacity":1},"encoding":{"x":{"field":"x2","type":"quantitative","axis":null},"y":{"field":"y2","type":"quantitative","axis":null},"shape":{"field":"s","type":"nominal","scale":null}}},
{"mark":{"type":"text","font":"Liberation Serif","fontSize":35,"color":"#222"},"encoding":{"x":{"field":"tx","type":"quantitative","axis":null},"y":{"field":"ty","type":"quantitative","axis":null},"text":{"field":"t"}}}]}]},
{"width":54,"height":355,"data":{"name":"bands"},"mark":{"type":"rect","stroke":"#555","strokeWidth":0.8},"encoding":{"x":{"field":"p","type":"quantitative","axis":null,"scale":{"domain":[-0.227,1],"nice":false,"zero":false}},"x2":{"field":"q"},"y":{"field":"i","type":"quantitative","scale":{"domain":[-0.069,12.138],"reverse":true,"nice":false,"zero":false},"axis":{"values":[0,1,2,3,4,5,6,7,8,9,10,11,12],"labelExpr":"['+1.4e-02','+1.2e-02','+9.4e-03','+7.1e-03','+4.7e-03','+2.4e-03','-3.4e-06','-2.4e-03','-4.7e-03','-7.1e-03','-9.5e-03','-1.2e-02','-1.4e-02'][datum.value]","title":null,"tickSize":14,"labelPadding":15,"labelFontSize":31,"labelOffset":-2,"orient":"right"}},"y2":{"field":"j"},"color":{"field":"b","type":"ordinal","legend":null,"scale":{"domain":[1,2,3,4,5,6,7,8,9,10,11,12],"range":["#ff0000","#ff5d00","#ffb900","#e8ff00","#8bff00","#2eff00","#00ff2e","#00ff8b","#00ffe8","#00b9ff","#005dff","#0000ff"]}}}}
],"spacing":28,"bounds":"flush"},
{"hconcat":[
{"width":46,"height":352,"data":{"values":[{"lo":-0.0138,"hi":0.0138,"a":0,"b":1}]},"mark":{"type":"rect","fill":{"x1":0,"y1":1,"x2":0,"y2":0,"gradient":"linear","stops":[{"offset":0,"color":"#000080"},{"offset":0.125,"color":"#0000ff"},{"offset":0.375,"color":"#00ffff"},{"offset":0.625,"color":"#ffff00"},{"offset":0.875,"color":"#ff0000"},{"offset":1,"color":"#700000"}]}},"encoding":{"x":{"field":"a","type":"quantitative","axis":null,"scale":{"domain":[-0.182,1.909],"nice":false,"zero":false}},"x2":{"field":"b"},"y":{"field":"lo","type":"quantitative","scale":{"domain":[-0.01388,0.01388],"nice":false,"zero":false},"axis":{"values":[-0.01,-0.005,0,0.005,0.01],"labelExpr":"datum.value==0?'0.0e+00':datum.value==0.01?'1.0e-02':datum.value==0.005?'5.0e-03':datum.value==-0.005?'-5.0e-03':'-1.0e-02'","title":"(b)","titleAngle":0,"titleAlign":"left","titleBaseline":"middle","titleX":-177,"titleY":166,"tickSize":-4,"labelPadding":15,"labelOffset":1,"offset":-4}},"y2":{"field":"hi"}}},
{"width":353,"height":352,"layer":[
{"data":{"name":"pd"},"mark":{"type":"area","interpolate":"monotone","orient":"vertical","clip":true},"encoding":{"x":{"field":"x","type":"quantitative","axis":null,"scale":{"domain":[-0.986,1.014],"nice":false,"zero":false}},"y":{"field":"y","type":"quantitative","axis":null,"stack":null,"scale":{"domain":[-1,1],"nice":false,"zero":false}},"y2":{"datum":-1.05},"detail":{"field":"v","type":"nominal"},"color":{"field":"v","type":"quantitative","legend":null,"scale":{"type":"linear","interpolate":"rgb","domain":[-0.0136,-0.0102,-0.0034,0.0034,0.0102,0.0136],"range":["#000080","#0000ff","#00ffff","#ffff00","#ff0000","#700000"]}}}},
{"data":{"name":"crackP"},"mark":{"type":"area","interpolate":"monotone","orient":"vertical","color":"white"},"encoding":{"x":{"field":"x","type":"quantitative","axis":null},"y":{"field":"t","type":"quantitative","axis":null,"stack":null},"y2":{"field":"b"}}},
{"data":{"values":[{"x":0,"y":-0.005,"x2":0,"y2":0.545,"s":"triangle-up","t":"y","tx":-0.159,"ty":0.48},{"x":0,"y":-0.005,"x2":0.555,"y2":-0.005,"s":"triangle-right","t":"x","tx":0.504,"ty":-0.187}]},"layer":[
{"mark":{"type":"rule","color":"#222","strokeWidth":2},"encoding":{"x":{"field":"x","type":"quantitative","axis":null},"y":{"field":"y","type":"quantitative","axis":null},"x2":{"field":"x2"},"y2":{"field":"y2"}}},
{"mark":{"type":"point","filled":true,"size":260,"color":"black","opacity":1},"encoding":{"x":{"field":"x2","type":"quantitative","axis":null},"y":{"field":"y2","type":"quantitative","axis":null},"shape":{"field":"s","type":"nominal","scale":null}}},
{"mark":{"type":"text","font":"Liberation Serif","fontSize":35,"color":"#222"},"encoding":{"x":{"field":"tx","type":"quantitative","axis":null},"y":{"field":"ty","type":"quantitative","axis":null},"text":{"field":"t"}}}]}]},
{"width":350,"height":352,"layer":[
{"data":{"name":"fem"},"mark":{"type":"area","interpolate":"monotone","orient":"vertical","clip":true},"encoding":{"x":{"field":"x","type":"quantitative","axis":null,"scale":{"domain":[-1,1],"nice":false,"zero":false}},"y":{"field":"y","type":"quantitative","axis":null,"stack":null,"scale":{"domain":[-1.0144,1.0144],"nice":false,"zero":false}},"y2":{"datum":-0.991},"detail":{"field":"b","type":"nominal"},"color":{"field":"b","type":"ordinal","legend":null,"scale":{"domain":[1,2,3,4,5,6,7,8,9,10,11,12],"range":["#dc0000","#d85000","#d8a000","#c4d800","#78d800","#28d800","#00d828","#00d878","#00d4c0","#00a0d0","#0050d0","#0000cc"]}}}},
{"data":{"name":"crackF"},"mark":{"type":"area","interpolate":"monotone","orient":"vertical","color":"white"},"encoding":{"x":{"field":"x","type":"quantitative","axis":null},"y":{"field":"t","type":"quantitative","axis":null,"stack":null},"y2":{"field":"b"}}},
{"data":{"values":[{"x":0,"y":-0.006,"x2":0,"y2":0.555,"s":"triangle-up","t":"y","tx":-0.154,"ty":0.49},{"x":0,"y":-0.006,"x2":0.566,"y2":-0.006,"s":"triangle-right","t":"x","tx":0.503,"ty":-0.19}]},"layer":[
{"mark":{"type":"rule","color":"#111","strokeWidth":2},"encoding":{"x":{"field":"x","type":"quantitative","axis":null},"y":{"field":"y","type":"quantitative","axis":null},"x2":{"field":"x2"},"y2":{"field":"y2"}}},
{"mark":{"type":"point","filled":true,"size":260,"color":"black","opacity":1},"encoding":{"x":{"field":"x2","type":"quantitative","axis":null},"y":{"field":"y2","type":"quantitative","axis":null},"shape":{"field":"s","type":"nominal","scale":null}}},
{"mark":{"type":"text","font":"Liberation Serif","fontSize":35,"color":"#222"},"encoding":{"x":{"field":"tx","type":"quantitative","axis":null},"y":{"field":"ty","type":"quantitative","axis":null},"text":{"field":"t"}}}]}]},
{"width":53,"height":352,"data":{"name":"bands"},"mark":{"type":"rect","stroke":"#555","strokeWidth":0.8},"encoding":{"x":{"field":"p","type":"quantitative","axis":null,"scale":{"domain":[-0.262,1],"nice":false,"zero":false}},"x2":{"field":"q"},"y":{"field":"i","type":"quantitative","scale":{"domain":[-0.396,12.288],"reverse":true,"nice":false,"zero":false},"axis":{"values":[0,1,2,3,4,5,6,7,8,9,10,11,12],"labelExpr":"['+1.4e-02','+1.2e-02','+9.5e-03','+7.1e-03','+4.7e-03','+2.4e-03','-2.3e-06','-2.4e-03','-4.7e-03','-7.1e-03','-9.5e-03','-1.2e-02','-1.4e-02'][datum.value]","title":null,"tickSize":14,"labelPadding":11,"labelFontSize":30,"labelOffset":-1,"orient":"right"}},"y2":{"field":"j"},"color":{"field":"b","type":"ordinal","legend":null,"scale":{"domain":[1,2,3,4,5,6,7,8,9,10,11,12],"range":["#ff0000","#ff5d00","#ffb900","#e8ff00","#8bff00","#2eff00","#00ff2e","#00ff8b","#00ffe8","#00b9ff","#005dff","#0000ff"]}}}}
],"spacing":30,"bounds":"flush"}]},
{"hconcat":[
{"width":43,"height":353,"data":{"values":[{"lo":-0.0138,"hi":0.0138,"a":0,"b":1}]},"mark":{"type":"rect","fill":{"x1":0,"y1":1,"x2":0,"y2":0,"gradient":"linear","stops":[{"offset":0,"color":"#000080"},{"offset":0.125,"color":"#0000ff"},{"offset":0.375,"color":"#00ffff"},{"offset":0.625,"color":"#ffff00"},{"offset":0.875,"color":"#ff0000"},{"offset":1,"color":"#700000"}]}},"encoding":{"x":{"field":"a","type":"quantitative","axis":null,"scale":{"domain":[0,1.955],"nice":false,"zero":false}},"x2":{"field":"b"},"y":{"field":"lo","type":"quantitative","scale":{"domain":[-0.01388,0.0138],"nice":false,"zero":false},"axis":{"values":[-0.01,-0.005,0,0.005,0.01],"labelExpr":"datum.value==0?'0.0e+00':datum.value==0.01?'1.0e-02':datum.value==0.005?'5.0e-03':datum.value==-0.005?'-5.0e-03':'-1.0e-02'","title":"(c)","titleAngle":0,"titleAlign":"left","titleBaseline":"middle","titleX":-175,"titleY":188,"tickSize":-4,"labelPadding":15,"labelOffset":1}},"y2":{"field":"hi"}}},
{"width":357,"height":353,"layer":[
{"data":{"name":"pd"},"mark":{"type":"area","interpolate":"monotone","orient":"vertical","clip":true},"encoding":{"x":{"field":"x","type":"quantitative","axis":null,"scale":{"domain":[-0.997,1.003],"nice":false,"zero":false}},"y":{"field":"y","type":"quantitative","axis":null,"stack":null,"scale":{"domain":[-1.003,0.997],"nice":false,"zero":false}},"y2":{"datum":-1.05},"detail":{"field":"v","type":"nominal"},"color":{"field":"v","type":"quantitative","legend":null,"scale":{"type":"linear","interpolate":"rgb","domain":[-0.0136,-0.0102,-0.0034,0.0034,0.0102,0.0136],"range":["#000080","#0000ff","#00ffff","#ffff00","#ff0000","#700000"]}}}},
{"data":{"name":"crackP"},"mark":{"type":"area","interpolate":"monotone","orient":"vertical","color":"white"},"encoding":{"x":{"field":"x","type":"quantitative","axis":null},"y":{"field":"t","type":"quantitative","axis":null,"stack":null},"y2":{"field":"b"}}},
{"data":{"values":[{"x":0,"y":-0.005,"x2":0,"y2":0.545,"s":"triangle-up","t":"y","tx":-0.151,"ty":0.475},{"x":0,"y":-0.005,"x2":0.548,"y2":-0.005,"s":"triangle-right","t":"x","tx":0.499,"ty":-0.179}]},"layer":[
{"mark":{"type":"rule","color":"#222","strokeWidth":2},"encoding":{"x":{"field":"x","type":"quantitative","axis":null},"y":{"field":"y","type":"quantitative","axis":null},"x2":{"field":"x2"},"y2":{"field":"y2"}}},
{"mark":{"type":"point","filled":true,"size":260,"color":"black","opacity":1},"encoding":{"x":{"field":"x2","type":"quantitative","axis":null},"y":{"field":"y2","type":"quantitative","axis":null},"shape":{"field":"s","type":"nominal","scale":null}}},
{"mark":{"type":"text","font":"Liberation Serif","fontSize":35,"color":"#222"},"encoding":{"x":{"field":"tx","type":"quantitative","axis":null},"y":{"field":"ty","type":"quantitative","axis":null},"text":{"field":"t"}}}]}]},
{"width":352,"height":353,"layer":[
{"data":{"name":"fem"},"mark":{"type":"area","interpolate":"monotone","orient":"vertical","clip":true},"encoding":{"x":{"field":"x","type":"quantitative","axis":null,"scale":{"domain":[-1,1],"nice":false,"zero":false}},"y":{"field":"y","type":"quantitative","axis":null,"stack":null,"scale":{"domain":[-1,1.0057],"nice":false,"zero":false}},"y2":{"datum":-1},"detail":{"field":"b","type":"nominal"},"color":{"field":"b","type":"ordinal","legend":null,"scale":{"domain":[1,2,3,4,5,6,7,8,9,10,11,12],"range":["#dc0000","#d85000","#d8a000","#c4d800","#78d800","#28d800","#00d828","#00d878","#00d4c0","#00a0d0","#0050d0","#0000cc"]}}}},
{"data":{"name":"crackF"},"mark":{"type":"area","interpolate":"monotone","orient":"vertical","color":"white"},"encoding":{"x":{"field":"x","type":"quantitative","axis":null},"y":{"field":"t","type":"quantitative","axis":null,"stack":null},"y2":{"field":"b"}}},
{"data":{"values":[{"x":-0.005,"y":0,"x2":-0.005,"y2":0.552,"s":"triangle-up","t":"y","tx":-0.165,"ty":0.483},{"x":-0.005,"y":0,"x2":0.557,"y2":0,"s":"triangle-right","t":"x","tx":0.494,"ty":-0.176}]},"layer":[
{"mark":{"type":"rule","color":"#111","strokeWidth":2},"encoding":{"x":{"field":"x","type":"quantitative","axis":null},"y":{"field":"y","type":"quantitative","axis":null},"x2":{"field":"x2"},"y2":{"field":"y2"}}},
{"mark":{"type":"point","filled":true,"size":260,"color":"black","opacity":1},"encoding":{"x":{"field":"x2","type":"quantitative","axis":null},"y":{"field":"y2","type":"quantitative","axis":null},"shape":{"field":"s","type":"nominal","scale":null}}},
{"mark":{"type":"text","font":"Liberation Serif","fontSize":35,"color":"#222"},"encoding":{"x":{"field":"tx","type":"quantitative","axis":null},"y":{"field":"ty","type":"quantitative","axis":null},"text":{"field":"t"}}}]}]},
{"width":53,"height":353,"data":{"name":"bands"},"mark":{"type":"rect","stroke":"#555","strokeWidth":0.8},"encoding":{"x":{"field":"p","type":"quantitative","axis":null,"scale":{"domain":[-0.325,1],"nice":false,"zero":false}},"x2":{"field":"q"},"y":{"field":"i","type":"quantitative","scale":{"domain":[-0.558,12.558],"reverse":true,"nice":false,"zero":false},"axis":{"values":[0,1,2,3,4,5,6,7,8,9,10,11,12],"labelExpr":"['+1.4e-02','+1.2e-02','+9.5e-03','+7.1e-03','+4.7e-03','+2.4e-03','-3.7e-07','-2.4e-03','-4.7e-03','-7.1e-03','-9.5e-03','-1.2e-02','-1.4e-02'][datum.value]","title":null,"tickSize":14,"labelPadding":12,"labelFontSize":29,"labelOffset":-2,"orient":"right"}},"y2":{"field":"j"},"color":{"field":"b","type":"ordinal","legend":null,"scale":{"domain":[1,2,3,4,5,6,7,8,9,10,11,12],"range":["#ff0000","#ff5d00","#ffb900","#e8ff00","#8bff00","#2eff00","#00ff2e","#00ff8b","#00ffe8","#00b9ff","#005dff","#0000ff"]}}}}
],"spacing":29,"bounds":"flush"}],"spacing":14}
